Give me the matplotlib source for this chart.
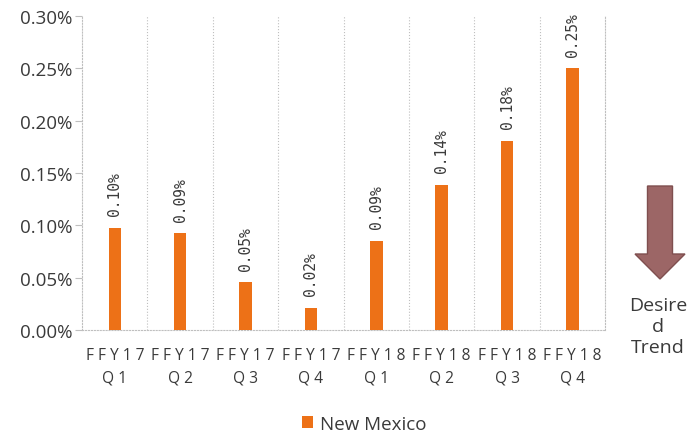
import matplotlib.pyplot as plt
from matplotlib.patches import FancyArrow
from matplotlib.ticker import FuncFormatter

# datos
categorias = ["F F Y 1 7\nQ 1", "F F Y 1 7\nQ 2", "F F Y 1 7\nQ 3", "F F Y 1 7\nQ 4",
              "F F Y 1 8\nQ 1", "F F Y 1 8\nQ 2", "F F Y 1 8\nQ 3", "F F Y 1 8\nQ 4"]
valores = [0.0975, 0.0925, 0.0455, 0.021, 0.0855, 0.139, 0.181, 0.250]
etiquetas = ["0.10%", "0.09%", "0.05%", "0.02%", "0.09%", "0.14%", "0.18%", "0.25%"]

naranja = "#ED7117"
gris = "#BFBFBF"
texto = "#3A3A3A"

plt.rcParams['font.family'] = ['Open Sans', 'DejaVu Sans']

fig = plt.figure(figsize=(6.9, 4.39), dpi=100)
ax = fig.add_axes([0.119, 0.246, 0.758, 0.715])

x = list(range(len(categorias)))
barras = ax.bar(x, valores, width=0.19, color=naranja, label="New Mexico", zorder=3)

for xi, v, et in zip(x, valores, etiquetas):
    ax.text(xi, v + 0.012, et, rotation=90, ha='center', va='bottom',
            fontsize=10.5, color=texto, family='DejaVu Sans Mono')

ax.set_xlim(-0.5, len(categorias) - 0.5)
ax.set_ylim(0, 0.30)
ax.set_yticks([0, 0.05, 0.10, 0.15, 0.20, 0.25, 0.30])
ax.yaxis.set_major_formatter(FuncFormatter(lambda v, p: f"{v:.2f}%"))
ax.set_xticks(x)
ax.set_xticklabels(categorias, fontsize=11.2, color=texto, linespacing=1.6)
ax.tick_params(axis='y', labelsize=13.5, labelcolor=texto, length=5, color=gris, pad=2)
ax.tick_params(axis='x', length=0, pad=12)

# lineas verticales entre categorias
for b in [i + 0.5 for i in x[:-1]]:
    ax.axvline(b, color=gris, lw=0.8, ls=':', zorder=1)
for lado in ['left', 'bottom', 'right']:
    ax.spines[lado].set_color(gris)
    ax.spines[lado].set_linestyle(':')
    ax.spines[lado].set_linewidth(0.8)
ax.spines['top'].set_visible(False)

fig.legend(handles=[barras], labels=["New Mexico"], loc='center', bbox_to_anchor=(0.528, 0.032),
           frameon=False, fontsize=13.5, handlelength=0.6, handleheight=0.6,
           handletextpad=0.4, labelcolor=texto)

# flecha de tendencia deseada
flecha = FancyArrow(660 / 690, 1 - 187 / 439, 0, -(93 / 439), width=25 / 690,
                    head_width=50 / 690, head_length=25 / 439, length_includes_head=True,
                    transform=fig.transFigure, facecolor="#9C6666", edgecolor="#7F4F4F", lw=1)
fig.patches.append(flecha)
fig.text(658 / 690, 1 - 327 / 439, "Desire\nd\nTrend", ha='center', va='center',
         fontsize=14, color=texto, linespacing=1.2)

plt.savefig("out.png", dpi=100)
